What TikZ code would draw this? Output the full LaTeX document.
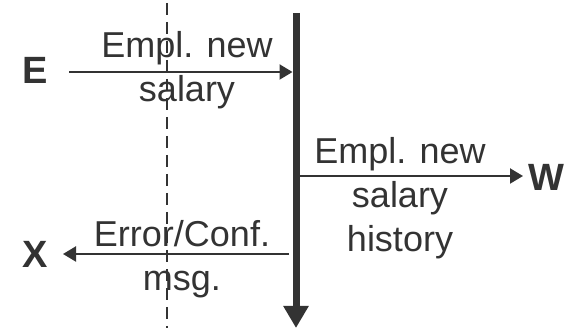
\documentclass[tikz,border=0pt]{standalone}
\usepackage{fontspec}
\setmainfont{Liberation Sans}
\usetikzlibrary{arrows.meta}
\definecolor{ink}{HTML}{333333}
\begin{document}
\begin{tikzpicture}[x=1pt,y=-1pt,
  lbl/.style={font=\fontsize{36}{44}\selectfont, text=ink, align=center, inner sep=0pt, anchor=base},
  ent/.style={font=\fontsize{38}{44}\selectfont\bfseries, text=ink, inner sep=0pt},
  flow/.style={draw=ink, line width=2.2pt, -{Triangle[length=13pt,width=15pt]}},
  bar/.style={draw=ink, line width=7pt, -{Triangle[length=22pt,width=24pt]}},
  boundary/.style={draw=ink, line width=1.6pt, dash pattern=on 12pt off 7pt}]
\useasboundingbox (0,0) rectangle (574,328);

% system boundary and the process time line
\coordinate (dTop) at (167,3);
\coordinate (dBot) at (167,328);
\draw[boundary] (dTop) -- (dBot);

\coordinate (pTop) at (296,13);
\coordinate (pBot) at (296,328);
\draw[bar] (pTop) -- (pBot);

% external entities
\node[ent] (E) at (35,70) {E};
\node[ent] (W) at (546,177) {W};
\node[ent] (X) at (35,254) {X};

% data flows
\coordinate (eOut) at (69,72);
\coordinate (eIn)  at (292.5,72);
\draw[flow] (eOut) -- (eIn);

\coordinate (wOut) at (299.5,176);
\coordinate (wIn)  at (523,176);
\draw[flow] (wOut) -- (wIn);

\coordinate (xOut) at (289,254);
\coordinate (xIn)  at (63,254);
\draw[flow] (xOut) -- (xIn);

% flow labels (the base anchor sits on the last line)
\node[lbl] (l1) at (187,102) {Empl. new\\salary};
\node[lbl] (l2) at (400,252) {Empl. new\\salary\\history};
\node[lbl] (l3) at (182,291) {Error/Conf.\\msg.};
\end{tikzpicture}
\end{document}
